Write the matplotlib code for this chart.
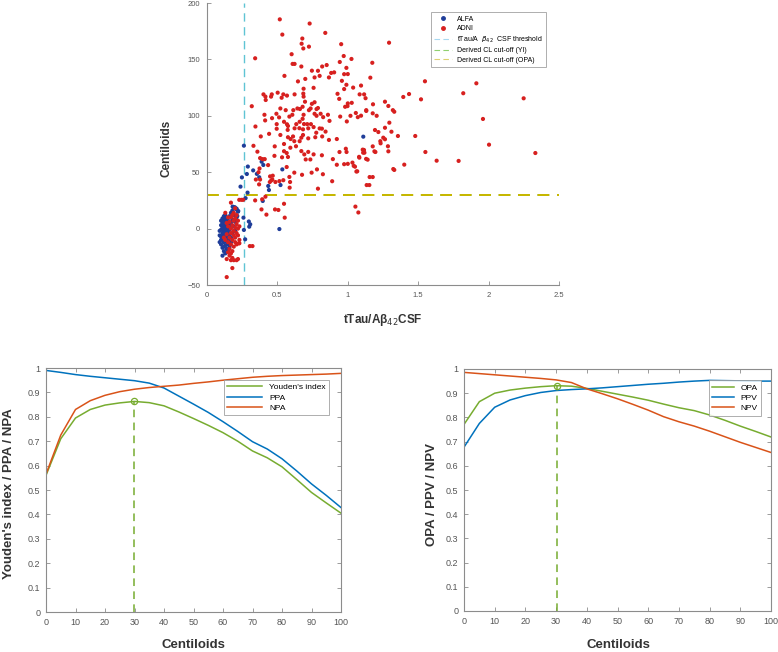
import matplotlib
matplotlib.use("Agg")
import matplotlib.pyplot as plt
from matplotlib.lines import Line2D

plt.rcParams['font.family'] = ['Liberation Sans', 'DejaVu Sans']

# ---------------- data ----------------
# ADNI scatter (tTau/Abeta42 CSF, Centiloids)
adni_pts = [
    (0.517,185.5),(0.535,172),(0.729,181.8),(0.84,173.5),(0.342,151),(0.677,168.5),(0.672,163.9),
    (0.684,159.7),(0.724,161.3),(0.953,163.5),(1.293,164.8),(0.601,154.6),(0.622,146),(0.608,146),
    (0.55,135.4),(0.67,143.7),(0.745,140),(0.788,139.9),(0.8,135.4),(0.764,134),(0.818,143.7),
    (0.85,145),(0.971,153),(0.943,147.7),(0.99,142.5),(1.0,137),(0.974,136.9),(1.026,150.4),
    (1.094,126.8),(1.16,133.8),(1.174,147),(0.903,138.5),(0.866,134),(0.99,127.5),(0.958,131),
    (0.882,138),(0.698,132.7),(0.646,130.5),(0.757,124.8),(0.686,124),(0.684,119.7),(0.686,117),
    (0.622,119),(0.568,117.9),(0.542,119),(0.53,116),(0.502,120.5),(0.46,119),(0.455,117),
    (0.415,117),(0.401,119),(0.417,114),(0.408,100.9),(0.413,95.9),(0.318,108.5),(0.344,90.5),
    (0.462,97.9),(0.493,101.8),(0.521,106.5),(0.512,98.6),(0.547,94.7),(0.559,105),(0.568,92.5),
    (0.573,87.5),(0.575,91),(0.585,99.3),(0.606,100.9),(0.613,105),(0.642,106.5),(0.66,106),
    (0.679,108),(0.679,97.3),(0.686,100.9),(0.724,105),(0.696,112.5),(0.736,106.5),(0.745,110.6),
    (0.764,112),(0.764,101.8),(0.778,100),(0.778,106),(0.788,106.9),(0.807,101.8),(0.825,98.8),
    (0.859,100.9),(0.87,95.5),(0.658,94.7),(0.634,92.6),(0.622,88.9),(0.656,89),(0.682,88),
    (0.689,92.7),(0.712,92.6),(0.719,88.9),(0.738,92.6),(0.757,90),(0.776,85),(0.8,88.8),
    (0.816,88.6),(0.842,86),(0.866,78.6),(0.818,81.7),(0.769,81),(0.719,80),(0.67,80.6),
    (0.682,83),(0.611,81.7),(0.594,79.4),(0.575,81),(0.521,83),(0.495,88.5),(0.495,92.6),
    (0.441,84),(0.382,81.7),(0.33,73.4),(0.358,68.2),(0.377,62.5),(0.394,61.6),(0.41,61.6),
    (0.434,56.3),(0.479,64.5),(0.481,72.9),(0.547,75),(0.547,68.6),(0.566,67),(0.575,63.5),
    (0.533,63.2),(0.592,71.7),(0.62,77.5),(0.632,73),(0.658,77.5),(0.67,68.7),(0.691,65.8),
    (0.701,61.3),(0.734,61.3),(0.719,68),(0.757,65.8),(0.816,65),(0.781,52.5),(0.743,49.6),
    (0.675,47.7),(0.62,49.6),(0.566,54.6),(0.585,45.8),(0.59,41.3),(0.587,36.3),(0.542,42.9),
    (0.514,42.1),(0.486,41.3),(0.464,43.5),(0.455,42.5),(0.448,46.3),(0.467,46.9),(0.446,41.3),
    (0.366,50),(0.377,43.5),(0.37,39.2),(0.347,43.5),(0.373,53.3),(0.415,28.3),(0.392,26),
    (0.387,17),(0.422,12.4),(0.342,25),(0.483,17),(0.507,16.5),(0.547,22),(0.552,9.7),
    (0.788,35.4),(0.823,48.2),(0.889,42),(0.894,61.6),(0.922,56.6),(0.941,67.9),(0.974,57.1),
    (0.986,70.8),(0.991,67.9),(1.042,55.6),(1.061,50.6),(1.0,57.4),(1.08,63.6),(1.106,70),
    (1.109,67.3),(1.13,61.8),(1.134,38.6),(1.153,38.6),(1.155,45.7),(1.177,45.7),(1.189,68.5),
    (1.231,77.5),(1.252,80.6),(1.264,79.2),(1.285,73),(1.323,52.8),(1.31,85.9),(1.356,82.1),
    (1.479,82.1),(1.401,56.7),(1.054,19.5),(1.075,14.3),(1.177,72.9),(1.033,58.5),(0.922,79.4),
    (0.946,99.3),(0.993,95),(1.019,100),(1.057,102.5),(1.071,98.8),(1.0,111),(0.998,108.6),
    (0.981,108),(1.028,111.5),(0.939,115),(0.927,119.5),(0.974,123.7),(1.038,125),(1.084,119),
    (1.116,119),(1.126,115.6),(1.131,105),(1.177,102.2),(1.205,100),(1.094,100.1),(1.131,104.3),
    (1.179,110.2),(1.264,112.5),(1.288,108.7),(1.32,105),(1.33,103.6),(1.295,93.9),(1.264,89.4),
    (1.193,87.4),(1.217,85.6),(1.233,75.6),(1.115,69.7),(1.118,67.3),(1.196,67.9),(1.288,68.5),
    (1.082,62.9),(1.141,61.1),(1.33,52),(1.051,54.9),(1.067,50.8),(1.394,116.7),(1.435,119.3),
    (1.52,114.6),(1.548,130.6),(1.551,67.9),(1.631,60.2),(1.787,60),(1.82,120),(1.913,128.8),
    (2.249,115.5),(1.96,97.2),(2.003,74.4),(2.332,67),
    (0.229,25.5),(0.245,25.5),(0.257,25.5),(0.304,-15.5),(0.323,-15.5),(0.226,-13),
    (0.14,-5),(0.15,2),(0.15,-12),(0.16,6),(0.16,-18),(0.16,-8),(0.17,0),(0.17,10),(0.17,-4),
    (0.17,-14),(0.18,3),(0.18,-10),(0.18,-20),(0.18,12),(0.19,-6),(0.19,7),(0.19,-16),(0.19,-2),
    (0.20,1),(0.20,-12),(0.20,9),(0.20,-8),(0.21,4),(0.21,-4),(0.21,-14),(0.22,0),(0.22,7),
    (0.22,-6),(0.23,2),(0.23,-10),(0.13,-10),(0.14,5),(0.12,-8),(0.13,14),(0.15,10),(0.16,-24),
    (0.17,-22),(0.18,-26),(0.14,-27),(0.15,-21),(0.17,-28),(0.19,-28),(0.21,-28),(0.22,-27),
    (0.18,-35),(0.14,-43),(0.23,-13),(0.20,18),(0.17,23),(0.19,14),(0.21,12),
]
alfa_pts = [
    (0.262,73.5),(0.248,45.4),(0.283,48.4),(0.29,55),(0.328,51.6),(0.354,48.5),(0.371,45.5),
    (0.388,59.3),(0.4,56.4),(0.238,37.2),(0.288,31.9),(0.274,27),(0.396,24.5),(0.435,37.8),
    (0.44,34.2),(0.535,52.5),(0.522,38.6),(1.11,81.5),(0.514,-0.4),(0.259,9.7),(0.297,6.3),
    (0.307,3.8),(0.3,1.7),(0.262,-1.2),(0.271,-9.5),(0.198,18.9),(0.21,17.7),(0.182,19.5),
    (0.222,15.6),(0.215,11.2),(0.205,7.7),(0.186,13.6),
    (0.09,-2),(0.09,-6),(0.10,3),(0.10,-10),(0.10,-1),(0.10,-14),(0.11,5),(0.11,-4),(0.11,-8),
    (0.11,-17),(0.11,1),(0.12,8),(0.12,-2),(0.12,-12),(0.12,-6),(0.12,-20),(0.12,3),(0.13,6),
    (0.13,-1),(0.13,-9),(0.13,-15),(0.13,-4),(0.13,2),(0.14,9),(0.14,-7),(0.14,-12),(0.14,0),
    (0.14,-18),(0.14,4),(0.15,-3),(0.15,7),(0.15,-10),(0.15,-14),(0.15,1),(0.16,-6),(0.16,3),
    (0.16,11),(0.16,-1),(0.17,-8),(0.17,5),(0.17,14),(0.18,-4),(0.18,8),(0.18,16),(0.19,2),
    (0.19,12),(0.19,19),(0.20,18),(0.20,6),(0.21,17),(0.21,10),(0.22,15),(0.20,-2),(0.11,-24),
    (0.10,7),(0.09,-12),(0.12,11),(0.13,-22),(0.14,-3),(0.16,-16),(0.10,-7),(0.11,9),(0.13,12),
    (0.12,-16),(0.15,-20),(0.17,-12),
]
csf_threshold = 0.263
cl_cutoff_yi = 30
cl_cutoff_opa = 30

centiloids = [0,5,10,15,20,25,30,35,40,45,50,55,60,65,70,75,80,85,90,95,100]
youden = [0.56,0.71,0.795,0.83,0.848,0.857,0.863,0.858,0.845,0.82,0.793,0.765,0.735,0.70,
          0.66,0.632,0.595,0.543,0.49,0.447,0.405]
ppa = [0.99,0.982,0.973,0.966,0.96,0.954,0.948,0.938,0.918,0.885,0.852,0.818,0.78,0.74,
       0.698,0.668,0.628,0.578,0.525,0.478,0.428]
npa = [0.565,0.725,0.83,0.866,0.888,0.903,0.913,0.92,0.925,0.93,0.937,0.943,0.95,0.956,
       0.962,0.966,0.969,0.971,0.973,0.975,0.978]
opa = [0.771,0.865,0.9,0.913,0.921,0.927,0.931,0.929,0.92,0.908,0.896,0.884,0.871,0.855,
       0.84,0.828,0.81,0.788,0.764,0.742,0.719]
ppv = [0.677,0.775,0.842,0.872,0.89,0.903,0.911,0.915,0.918,0.922,0.927,0.932,0.937,0.941,
       0.946,0.95,0.953,0.952,0.951,0.95,0.95]
npv = [0.986,0.981,0.976,0.971,0.966,0.961,0.955,0.944,0.918,0.898,0.877,0.854,0.83,0.803,
       0.782,0.764,0.743,0.72,0.697,0.676,0.655]
yi_opt = (29.9, 0.863)
opa_opt = (30.2, 0.931)

# ---------------- style ----------------
C_GREEN = '#77AC30'
C_BLUE = '#0072BD'
C_ORANGE = '#D95319'
C_ALFA = '#1f3d99'
C_ADNI = '#d7201f'
C_CYAN = '#5fc4d4'
C_YELLOW = '#c9b800'
SPINE = '#8c8c8c'
TXT = '#333333'

fig = plt.figure(figsize=(7.78, 6.52), dpi=100)
W, H = 778, 652

def add_ax(x0, y0, x1, y1):
    return fig.add_axes([x0 / W, 1 - y1 / H, (x1 - x0) / W, (y1 - y0) / H])

# ---------- top scatter ----------
ax = add_ax(207, 3, 559, 285)
ax.scatter([p[0] for p in alfa_pts], [p[1] for p in alfa_pts], s=9, c=C_ALFA,
           edgecolors='none', zorder=3)
ax.scatter([p[0] for p in adni_pts], [p[1] for p in adni_pts], s=9, c=C_ADNI,
           edgecolors='none', zorder=3)
ax.axvline(csf_threshold, color=C_CYAN, ls=(0, (6, 4)), lw=1.0, zorder=2)
ax.axhline(cl_cutoff_yi, color=C_GREEN, ls=(0, (6, 4)), lw=1.4, zorder=2)
ax.axhline(cl_cutoff_opa, color=C_YELLOW, ls=(0, (6, 4)), lw=1.4, zorder=2)
ax.set_xlim(0, 2.5)
ax.set_ylim(-50, 200)
ax.set_xticks([0, 0.5, 1, 1.5, 2, 2.5])
ax.set_xticklabels(['0', '0.5', '1', '1.5', '2', '2.5'])
ax.set_yticks([-50, 0, 50, 100, 150, 200])
for s in ['top', 'right']:
    ax.spines[s].set_visible(False)
for s in ['left', 'bottom']:
    ax.spines[s].set_color(SPINE)
    ax.spines[s].set_linewidth(0.8)
ax.tick_params(direction='in', length=3, width=0.6, color=SPINE, labelsize=5.5,
               labelcolor='#555555', pad=5)
handles = [
    Line2D([], [], marker='o', ls='none', ms=2.5, color=C_ALFA),
    Line2D([], [], marker='o', ls='none', ms=2.5, color=C_ADNI),
    Line2D([], [], ls=(0, (5, 3)), lw=0.8, color='#a8d8f0'),
    Line2D([], [], ls=(0, (5, 3)), lw=0.8, color='#8fd070'),
    Line2D([], [], ls=(0, (5, 3)), lw=0.8, color='#ddd070'),
]
labels = ['ALFA', 'ADNI', r'tTau/A  $\beta_{42}$  CSF threshold',
          'Derived CL cut-off (YI)', 'Derived CL cut-off (OPA)']
leg = ax.legend(handles, labels, loc='upper right', bbox_to_anchor=(0.972, 0.979),
                fontsize=5, frameon=True, fancybox=False, edgecolor='#999999',
                handlelength=2.6, borderpad=0.5, labelspacing=0.35, handletextpad=0.6)
leg.get_frame().set_linewidth(0.7)
fig.text(166 / W, 1 - 148 / H, 'Centiloids', rotation=90, ha='center', va='center',
         fontsize=8.5, fontweight='bold', color=TXT)
fig.text(383 / W, 1 - 320 / H, 'tTau/Aβ$_{42}$CSF', ha='center', va='center',
         fontsize=8.5, fontweight='bold', color=TXT)

# ---------- bottom plots ----------
def style_bottom(a):
    a.set_xlim(0, 100)
    a.set_ylim(0, 1)
    a.set_xticks(range(0, 101, 10))
    a.set_yticks([i / 10 for i in range(11)])
    a.set_yticklabels(['0'] + ['0.%d' % i for i in range(1, 10)] + ['1'])
    for s in a.spines.values():
        s.set_color(SPINE)
        s.set_linewidth(0.8)
    a.tick_params(direction='in', length=3, width=0.6, color=SPINE, labelsize=6.5,
                  labelcolor='#555555', top=True, right=True, pad=4)

axl = add_ax(46, 368, 341, 612)
axl.plot(centiloids, youden, color=C_GREEN, lw=1.1, label="Youden's index")
axl.plot(centiloids, ppa, color=C_BLUE, lw=1.1, label='PPA')
axl.plot(centiloids, npa, color=C_ORANGE, lw=1.1, label='NPA')
axl.plot([yi_opt[0], yi_opt[0]], [0, yi_opt[1]], color=C_GREEN, ls=(0, (5, 3.5)), lw=1.1)
axl.plot([yi_opt[0]], [yi_opt[1]], marker='o', ms=4.5, mfc='none', mec=C_GREEN, mew=0.9)
style_bottom(axl)
leg = axl.legend(loc='upper right', bbox_to_anchor=(0.973, 0.967), fontsize=6,
                 frameon=True, fancybox=False, edgecolor='#999999', handlelength=4.2,
                 borderpad=0.4, labelspacing=0.3)
leg.get_frame().set_linewidth(0.7)
fig.text(9 / W, 1 - 494 / H, "Youden's index / PPA / NPA", rotation=90, ha='center',
         va='center', fontsize=9.5, fontweight='bold', color=TXT)
fig.text(193 / W, 1 - 645 / H, 'Centiloids', ha='center', va='center',
         fontsize=9.5, fontweight='bold', color=TXT)

axr = add_ax(464, 369, 771, 611)
axr.plot(centiloids, opa, color=C_GREEN, lw=1.1, label='OPA')
axr.plot(centiloids, ppv, color=C_BLUE, lw=1.1, label='PPV')
axr.plot(centiloids, npv, color=C_ORANGE, lw=1.1, label='NPV')
axr.plot([opa_opt[0], opa_opt[0]], [0, opa_opt[1]], color=C_GREEN, ls=(0, (5, 3.5)), lw=1.1)
axr.plot([opa_opt[0]], [opa_opt[1]], marker='o', ms=4.5, mfc='none', mec=C_GREEN, mew=0.9)
style_bottom(axr)
leg = axr.legend(loc='upper right', bbox_to_anchor=(0.98, 0.97), fontsize=6,
                 frameon=True, fancybox=False, edgecolor='#999999', handlelength=2.6,
                 borderpad=0.4, labelspacing=0.3)
leg.get_frame().set_linewidth(0.7)
fig.text(432 / W, 1 - 495 / H, 'OPA / PPV / NPV', rotation=90, ha='center',
         va='center', fontsize=9.5, fontweight='bold', color=TXT)
fig.text(618 / W, 1 - 645 / H, 'Centiloids', ha='center', va='center',
         fontsize=9.5, fontweight='bold', color=TXT)

fig.savefig('out.png', dpi=100)
